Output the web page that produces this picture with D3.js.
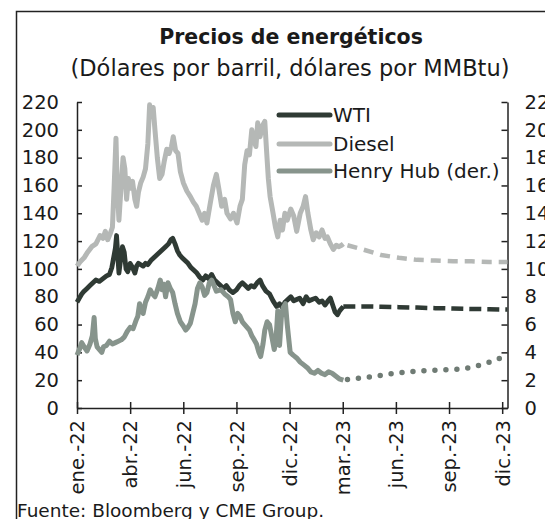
<!DOCTYPE html>
<html><head><meta charset="utf-8">
<script src="https://cdn.jsdelivr.net/npm/d3@7"></script>
<style>
html,body{margin:0;padding:0;background:#fff;overflow:hidden}
svg{display:block;font-family:"DejaVu Sans",sans-serif}
</style></head>
<body><svg id="c" width="545" height="519"></svg>
<script>
// ---- data (days since 1 Jan 2022, value) ----
const xTickLabels = ["ene.-22","abr.-22","jun.-22","sep.-22","dic.-22","mar.-23","jun.-23","sep.-23","dic.-23"];
const xTickDays = [0,90,180,270,360,450,540,630,720];
const leftTicks = [0,20,40,60,80,100,120,140,160,180,200,220];
const rightTicks = [0,2,4,6,8,10,12,14,16,18,20,22];

const wtiHistory = [[0,76],[4,79],[8,82],[12,84],[17,86],[22,88],[27,90],[32,92],[38,91],[44,93],[50,95],[55,96],[59,101],[62,108],[65,115],[67,124],[69,110],[71,97],[74,107],[77,116],[80,112],[83,100],[86,98],[90,104],[94,101],[98,97],[101,102],[104,104],[108,103],[112,102],[116,104],[120,103],[125,106],[130,108],[135,110],[140,112],[145,114],[150,116],[155,118],[159,121],[162,122],[166,118],[170,113],[174,110],[178,108],[183,106],[188,104],[193,101],[198,99],[203,97],[208,94],[213,92],[218,95],[223,93],[228,96],[233,92],[238,90],[243,88],[248,86],[253,88],[258,85],[264,83],[270,85],[275,88],[280,90],[285,88],[290,86],[295,88],[300,87],[305,90],[310,92],[314,88],[320,84],[326,82],[332,77],[338,73],[343,75],[348,72],[352,76],[357,78],[362,80],[367,77],[372,78],[377,79],[383,75],[388,80],[393,77],[398,78],[404,79],[410,76],[415,77],[420,74],[425,77],[429,79],[433,74],[437,69],[441,67],[445,70],[451,73]];
const wtiForecast = [[451,73],[484,73],[515,72.8],[545,72.5],[576,72.2],[607,71.8],[637,71.5],[668,71.2],[698,71],[729,70.8]];

const dieselHistory = [[0,102],[5,105],[12,108],[18,112],[25,116],[32,118],[39,124],[44,122],[48,127],[52,121],[56,125],[60,130],[63,160],[66,194],[68,160],[71,135],[74,155],[78,180],[81,172],[84,150],[87,165],[90,158],[94,163],[98,150],[101,145],[104,155],[108,162],[112,166],[116,172],[120,190],[123,218],[126,210],[129,216],[132,200],[136,180],[140,165],[144,168],[148,178],[152,186],[156,183],[160,188],[163,195],[167,185],[171,183],[175,170],[180,162],[186,156],[192,152],[197,148],[202,145],[207,140],[212,135],[216,140],[220,133],[226,148],[231,160],[236,168],[240,158],[245,145],[250,150],[254,140],[260,136],[265,140],[271,133],[276,145],[280,150],[284,175],[288,185],[292,182],[296,200],[300,192],[303,188],[306,205],[310,195],[314,203],[318,206],[321,185],[324,165],[327,152],[332,140],[336,130],[340,123],[344,135],[348,128],[352,140],[356,135],[362,143],[367,138],[372,127],[378,140],[383,145],[387,152],[391,140],[396,128],[400,121],[405,126],[410,123],[415,128],[420,122],[424,123],[429,118],[434,114],[439,117],[443,116],[448,117],[451,118]];
const dieselForecast = [[458,117],[484,114],[515,110],[545,108],[576,106.5],[607,106],[637,105.5],[668,105.5],[698,105],[729,105]];

const henryHubHistory = [[0,3.8],[4,4.2],[8,4.7],[12,4.4],[17,4.1],[22,4.6],[26,5.2],[29,6.5],[31,5.0],[34,4.4],[38,4.2],[42,4.0],[45,4.4],[50,4.5],[55,4.8],[60,4.6],[65,4.7],[70,4.8],[75,4.9],[80,5.1],[85,5.5],[90,5.8],[95,5.7],[100,6.3],[103,6.6],[106,7.5],[109,7.0],[112,6.8],[116,7.6],[120,8.0],[124,8.5],[128,8.2],[132,8.0],[137,8.6],[141,9.2],[144,8.5],[147,8.9],[150,8.0],[154,9.0],[158,8.6],[162,8.3],[166,7.5],[170,6.8],[175,6.2],[180,5.9],[184,5.6],[188,5.8],[192,6.1],[196,6.8],[200,7.5],[204,8.6],[208,9.0],[212,8.7],[216,8.1],[220,8.3],[224,9.0],[228,9.2],[232,8.8],[236,8.4],[244,8.5],[250,8.2],[256,8.0],[260,7.8],[264,6.8],[268,6.2],[272,6.8],[276,6.6],[280,6.2],[284,6.0],[288,5.8],[292,5.6],[296,5.2],[300,4.9],[304,4.6],[308,4.0],[311,3.7],[315,4.6],[318,5.6],[322,6.2],[326,6.0],[330,5.1],[334,4.2],[337,4.9],[340,7.0],[343,4.5],[346,6.5],[349,7.2],[353,7.5],[356,6.0],[358,5.2],[361,4.0],[366,3.8],[372,3.6],[378,3.3],[384,3.1],[390,2.9],[396,2.6],[402,2.5],[408,2.7],[414,2.5],[420,2.4],[426,2.6],[432,2.5],[438,2.3],[444,2.1],[451,2.0]];
const henryHubForecast = [[458,2.05],[470,2.1],[500,2.25],[530,2.45],[561,2.6],[592,2.7],[623,2.75],[653,2.8],[684,3.1],[699,3.3],[714,3.55],[729,3.75]];

const legendLabels = ["WTI","Diesel","Henry Hub (der.)"];

// ---- chart ----
const svg = d3.select("#c");
const start = new Date(2022,0,1);
const toDate = d => d3.timeDay.offset(start, d);
const x = d3.scaleTime().domain([start, toDate(729)]).range([77, 507.5]);
const yL = d3.scaleLinear().domain([0,220]).range([408,102]);
const yR = d3.scaleLinear().domain([0,22]).range([408,102]);

// frame
svg.append("path").attr("d","M16.5,519 V11.5 H545").attr("fill","none").attr("stroke","#222").attr("stroke-width",1.5);

// titles
svg.append("text").attr("x",291).attr("y",44).attr("text-anchor","middle")
  .style("font-size","20.5px").style("font-weight","bold").attr("fill","#1a1a1a").text("Precios de energéticos");
svg.append("text").attr("x",290).attr("y",76).attr("text-anchor","middle")
  .style("font-size","22.5px").attr("fill","#1a1a1a").text("(Dólares por barril, dólares por MMBtu)");

// axes
const gL = svg.append("g").attr("transform","translate(77,0)")
  .call(d3.axisLeft(yL).tickValues(leftTicks).tickSizeInner(-5).tickSizeOuter(0).tickPadding(18));
const gR = svg.append("g").attr("transform","translate(507.5,0)")
  .call(d3.axisRight(yR).tickValues(rightTicks).tickSizeInner(-6).tickSizeOuter(0).tickPadding(17));
[gL,gR].forEach(g=>{
  g.select(".domain").attr("stroke","#222").attr("stroke-width",1.5);
  g.selectAll(".tick line").attr("stroke","#222").attr("stroke-width",1.5);
  g.selectAll(".tick text").attr("fill","#1a1a1a").style("font-size","19.5px").attr("font-family","DejaVu Sans");
});

const gB = svg.append("g").attr("transform","translate(0,408)")
  .call(d3.axisBottom(x).tickValues(xTickDays.map(toDate)).tickSizeInner(5).tickSizeOuter(0)
    .tickFormat((d,i)=>xTickLabels[i]));
gB.select(".domain").attr("stroke","#222").attr("stroke-width",1.5);
gB.selectAll(".tick line").attr("y1",-6).attr("y2",6).attr("stroke","#222").attr("stroke-width",1.5);
gB.selectAll(".tick text").attr("fill","#1a1a1a").style("font-size","19.5px").attr("font-family","DejaVu Sans")
  .attr("text-anchor","end").attr("transform","rotate(-90)")
  .attr("x",-12).attr("y",0).attr("dy","0.35em");

// lines
const lineL = d3.line().x(d=>x(toDate(d[0]))).y(d=>yL(d[1]));
const lineR = d3.line().x(d=>x(toDate(d[0]))).y(d=>yR(d[1]));
const cW = "#2f3a34", cD = "#b5b8b6", cH = "#87948c";
const plot = svg.append("g").attr("fill","none").attr("stroke-linejoin","round");
plot.append("path").attr("d",lineL(wtiHistory)).attr("stroke",cW).attr("stroke-width",4.8);
plot.append("path").attr("d",lineL(wtiForecast)).attr("stroke",cW).attr("stroke-width",4.5).attr("stroke-dasharray","12 6");
plot.append("path").attr("d",lineL(dieselHistory)).attr("stroke",cD).attr("stroke-width",5);
plot.append("path").attr("d",lineL(dieselForecast)).attr("stroke",cD).attr("stroke-width",4.5).attr("stroke-dasharray","10 7");
plot.append("path").attr("d",lineR(henryHubHistory)).attr("stroke",cH).attr("stroke-width",5);
plot.append("path").attr("d",lineR(henryHubForecast)).attr("stroke","#6f7b74").attr("stroke-width",5.5)
  .attr("stroke-linecap","round").attr("stroke-dasharray","0 11");

// legend
const leg = svg.append("g");
const legColors = [cW,cD,cH];
const legY = [115,144,171];
legendLabels.forEach((t,i)=>{
  leg.append("line").attr("x1",279).attr("x2",330).attr("y1",legY[i]).attr("y2",legY[i])
    .attr("stroke",legColors[i]).attr("stroke-width",5).attr("stroke-linecap","round");
  leg.append("text").attr("x",333).attr("y",legY[i]).attr("dy","0.35em")
    .style("font-size","20px").attr("fill","#1a1a1a").text(t);
});

// source
svg.append("text").attr("x",17).attr("y",517).style("font-size","18.5px").attr("fill","#1a1a1a")
  .text("Fuente: Bloomberg y CME Group.");
</script></body></html>
